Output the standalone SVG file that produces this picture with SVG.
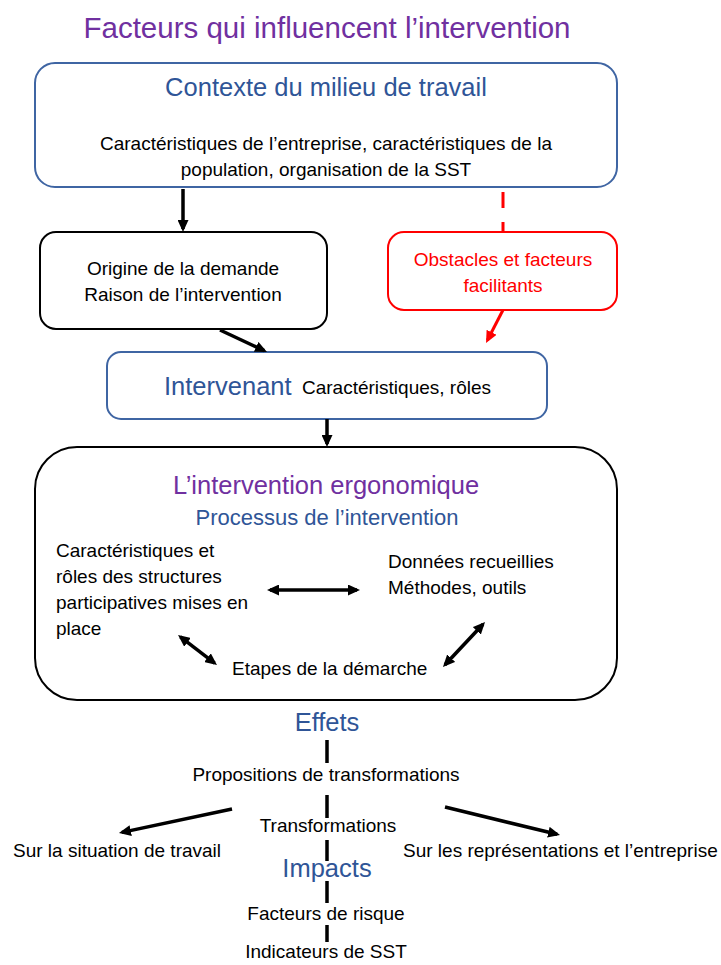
<svg xmlns="http://www.w3.org/2000/svg" width="721" height="965" viewBox="0 0 721 965">
<defs>
<style>
text{font-family:"Liberation Sans",Arial,sans-serif;}
.t{font-size:19px;fill:#000;}
.h{font-size:25.5px;fill:#2F5597;}
.p{fill:#7030A0;}
.r{fill:#FF0000;}
.mid{text-anchor:middle;}
.bx{fill:#fff;stroke-width:2;}
.blue{stroke:#3F65A3;}
.blk{stroke:#000;}
.red{stroke:#FF0000;}
.c{fill:none;stroke:#000;stroke-width:3.5;}
</style>
<marker id="ah" viewBox="0 0 12 11" refX="9" refY="5.5" markerWidth="12" markerHeight="11" markerUnits="userSpaceOnUse" orient="auto-start-reverse">
<path d="M0,0 L12,5.5 L0,11 z" fill="#000"/>
</marker>
<marker id="ahr" viewBox="0 0 12 11" refX="9" refY="5.5" markerWidth="12" markerHeight="11" markerUnits="userSpaceOnUse" orient="auto">
<path d="M0,0 L12,5.5 L0,11 z" fill="#FF0000"/>
</marker>
</defs>
<rect width="721" height="965" fill="#fff"/>

<g id="title">
<text class="mid p" x="327" y="38" font-size="29.5">Facteurs qui influencent l’intervention</text>
</g>

<g id="contexte">
<rect class="bx blue" x="35" y="63" width="582" height="124" rx="20"/>
<text class="h mid" x="326" y="96">Contexte du milieu de travail</text>
<text class="t mid" x="326" y="150">Caractéristiques de l’entreprise, caractéristiques de la</text>
<text class="t mid" x="326" y="176">population, organisation de la SST</text>
</g>

<g id="origine">
<rect class="bx blk" x="40" y="232" width="287" height="97" rx="16"/>
<text class="t mid" x="183" y="275">Origine de la demande</text>
<text class="t mid" x="183" y="301">Raison de l’intervention</text>
</g>

<g id="obstacles">
<rect class="bx red" x="388" y="232" width="229" height="78" rx="16"/>
<text class="t mid r" x="503" y="266">Obstacles et facteurs</text>
<text class="t mid r" x="503" y="292">facilitants</text>
</g>

<g id="intervenant">
<rect class="bx blue" x="107" y="352" width="440" height="67" rx="14"/>
<text class="h" x="164" y="395">Intervenant</text>
<text class="t" x="302" y="394">Caractéristiques, rôles</text>
</g>

<g id="intervention">
<rect class="bx blk" x="35" y="447" width="582" height="253" rx="42"/>
<text class="mid p" x="326" y="494" font-size="25.5">L’intervention ergonomique</text>
<text class="mid" x="327" y="525" font-size="22" fill="#2F5597">Processus de l’intervention</text>
<text class="t" x="56" y="557">Caractéristiques et</text>
<text class="t" x="56" y="583">rôles des structures</text>
<text class="t" x="56" y="609">participatives mises en</text>
<text class="t" x="56" y="635">place</text>
<text class="t" x="388" y="568">Données recueillies</text>
<text class="t" x="388" y="594">Méthodes, outils</text>
<text class="t" x="232" y="675">Etapes de la démarche</text>
</g>

<g id="effets">
<text class="h mid" x="327" y="731">Effets</text>
<text class="t mid" x="326" y="781">Propositions de transformations</text>
<text class="t mid" x="328" y="832">Transformations</text>
<text class="t" x="13" y="857">Sur la situation de travail</text>
<text class="t" x="403" y="857">Sur les représentations et l’entreprise</text>
</g>

<g id="impacts">
<text class="h mid" x="327" y="877">Impacts</text>
<text class="t mid" x="326" y="920">Facteurs de risque</text>
<text class="t mid" x="326" y="958">Indicateurs de SST</text>
</g>

<g id="connectors">
<path class="c" d="M183,189 L183,229" stroke-width="3" marker-end="url(#ah)"/>
<path d="M503,192 L503,232" fill="none" stroke="#FF0000" stroke-width="3" stroke-dasharray="16 14"/>
<path class="c" d="M220,330 L264.3,350.7" stroke-width="3.5" marker-end="url(#ah)"/>
<path d="M503,310 L487.4,340.3" fill="none" stroke="#FF0000" stroke-width="3" marker-end="url(#ahr)"/>
<path class="c" d="M327,419 L327,444" stroke-width="3" marker-end="url(#ah)"/>
<path class="c" d="M270,590 L357,590" marker-start="url(#ah)" marker-end="url(#ah)"/>
<path class="c" d="M180.4,636.8 L214.6,663.2" stroke-width="3" marker-start="url(#ah)" marker-end="url(#ah)"/>
<path class="c" d="M445,664.8 L483,624.2" stroke-width="3" marker-start="url(#ah)" marker-end="url(#ah)"/>
<path class="c" d="M327,740 L327,763 M327,795 L327,818 M327,840 L327,861 M327,881 L327,903 M327,925 L327,942"/>
<path class="c" d="M232,809 L121.9,832.4" marker-end="url(#ah)"/>
<path class="c" d="M445,807 L557.1,834.3" marker-end="url(#ah)"/>
</g>
</svg>
